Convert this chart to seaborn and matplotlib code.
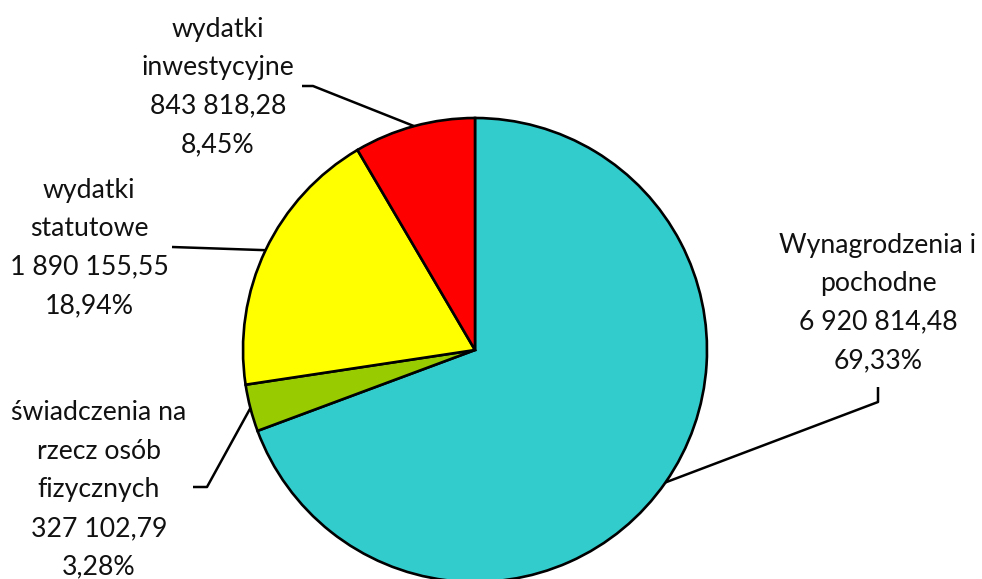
import numpy as np
import matplotlib
matplotlib.use("Agg")
import matplotlib.pyplot as plt
import seaborn as sns

categories = ["Wynagrodzenia i\npochodne", "świadczenia na\nrzecz osób\nfizycznych",
              "wydatki\nstatutowe", "wydatki\ninwestycyjne"]
values = [6920814.48, 327102.79, 1890155.55, 843818.28]
colors = ["#33CCCC", "#99CC00", "#FFFF00", "#FF0000"]

# layout (pixel coords, y from top)
W, H = 982, 579
center_px = (475, 350)
radius_px = 232
label_pos = [(878, 303), (99, 490), (89, 248), (218, 87)]
elbow = [[(878, 402), (878, 387)], [(207, 487), (193, 487)],
         [(172, 247), (172, 247)], [(313, 86), (302, 86)]]

sns.set_theme(style="white")
plt.rcParams['font.family'] = ['Lato', 'DejaVu Sans']

def fmt(v):
    s = f"{v:,.2f}"
    return s.replace(",", " ").replace(".", ",")

total = sum(values)
fig = plt.figure(figsize=(W / 100, H / 100), dpi=100)
ax = fig.add_axes([0, 0, 1, 1])
cx, cy = center_px[0], H - center_px[1]
wedges, _ = ax.pie(values, colors=colors, startangle=90, counterclock=False,
                   center=(cx, cy), radius=radius_px,
                   wedgeprops=dict(edgecolor="black", linewidth=1.9))
ax.set_xlim(0, W)
ax.set_ylim(0, H)
ax.set_aspect("equal", adjustable="box")
ax.axis("off")

for i, (cat, v) in enumerate(zip(categories, values)):
    pct = v / total * 100
    txt = f"{cat}\n{fmt(v)}\n{pct:.2f}%".replace(".", ",")
    lx, ly = label_pos[i]
    ax.text(lx, H - ly, txt, ha="center", va="center", fontsize=19.2,
            linespacing=1.68, color="#111111")
    w = wedges[i]
    mid = np.deg2rad((w.theta1 + w.theta2) / 2)
    px, py = cx + radius_px * np.cos(mid), cy + radius_px * np.sin(mid)
    xs = [px] + [e[0] for e in elbow[i]]
    ys = [py] + [H - e[1] for e in elbow[i]]
    ax.plot(xs, ys, color="black", linewidth=1.8, solid_capstyle="butt")

fig.savefig("out.png", dpi=100)
